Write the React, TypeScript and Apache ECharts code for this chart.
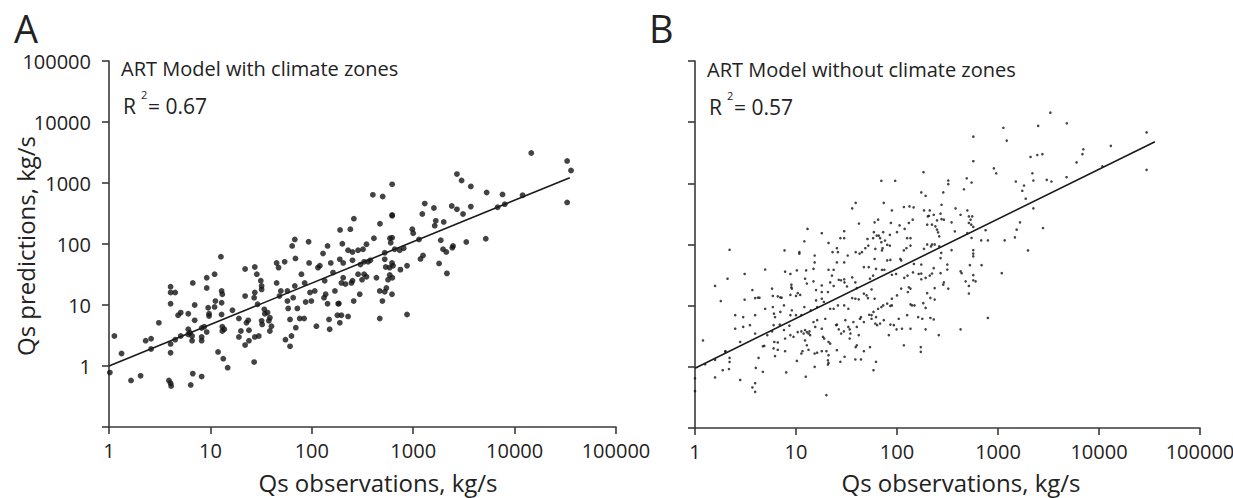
import React, { useEffect, useRef } from "react";
import * as echarts from "echarts";

// Panel A: ART model with climate zones (observed, predicted), kg/s
const panelAPoints: number[][] = [
  [1.13,3.1],[1.02,0.78],[1.33,1.6],[1.65,0.58],[2.05,0.69],[2.3,2.6],[2.6,2.8],[2.6,1.9],[3.1,5.1],[4.05,20],[4.05,16],[4.5,16],[4.05,10.5],[4.05,2.3],[4.05,1.65],[3.9,0.58],[4.05,0.52],[4.1,0.47],[4.5,2.7],[4.8,6.8],[5.1,7.5],[5.1,3.1],[6.05,7.2],[6.05,4.0],[6.05,3.3],[6.3,3.5],[6.6,3.1],[6.6,2.6],[6.7,23],[7.0,5.6],[7.0,10],[6.7,0.75],[6.4,0.49],[8.2,0.67],[8.2,4.2],[8.2,3.0],[8.2,2.6],[8.7,4.4],[9.2,28],[9.2,19],[9.2,3.6],[9.5,9.0],[9.7,7.2],[9.7,6.6],[11,32],[11,9.3],[11.2,11.6],[11.9,1.7],[12.7,62],[12.9,17],[13.1,15],[12.9,10.9],[12.9,7.0],[13.1,4.4],[13.1,3.75],[13.7,4.0],[13.4,1.32],[14.8,0.94],[16.5,8.2],[19.1,6.0],[19.1,3.0],[20,3.75],[22,39],[22,14],[22.7,5.1],[22,2.2],[23.6,5.6],[24,3.85],[24,2.6],[27,1.16],[27.4,42],[27.4,16],[27,13.2],[27.4,3.0],[28.7,32],[29.2,10.3],[30,3.1],[31.4,25],[32,18],[32,20.5],[32,5.5],[32.4,4.8],[34,8.5],[34.4,7.2],[36.6,7.5],[37.7,5.5],[38.6,3.75],[40,4.5],[38.6,6.2],[45,49],[45,23],[47,41],[48,14],[49.5,17],[54,51],[55,2.7],[57.5,17],[57.5,11.6],[58.5,8.8],[61,5.8],[61,2.1],[63,3.1],[64,93],[68,119],[69,58],[65.5,13.2],[68,20.5],[69.5,4.25],[72,8.8],[76,6.0],[79,32],[84,6.0],[85,23],[87,11.2],[93,109],[94,49],[96,16],[99,11.6],[107,17],[111,4.5],[115,41],[120,44],[129,70],[134,25],[132,13.2],[137,15],[143,93],[143,10.5],[148,5.8],[150,4.0],[154,49],[162,34],[169,17],[182,10.5],
  [14600,3100],[33000,2300],[36000,1600],[33000,480],[2700,1400],[3000,1100],[3700,880],[5300,700],[7600,650],[12000,630],[6800,400],[8000,450],[620,950],[400,640],[500,600],[1300,460],[1600,390],[2400,420],[2700,370],[3100,310],[3700,410],[1230,310],[620,300],[620,290],[260,260],[470,215],[190,170],[240,175],[980,175],[1000,150],[1670,240],[1630,200],[2000,230],[410,124],[590,124],[620,127],[600,105],[1140,119],[1870,115],[3340,108],[5200,122],[200,101],[346,99],[228,79],[252,74],[286,79],[320,82],[524,72],[657,82],[736,79],[806,85],[1970,82],[2120,74],[2470,93],[2430,87],[1250,65],[1180,57],[1800,48],[2150,33],[189,56],[204,49],[252,54],[302,46],[328,51],[359,51],[378,54],[524,56],[618,49],[536,42],[587,41],[633,44],[748,38],[869,44],[286,32],[328,32],[346,29],[313,26],[434,28],[587,31],[623,28],[565,26],[196,23],[215,22],[246,23],[252,25],[204,28],[468,17],[544,19],[524,16.5],[618,15],[297,15],[259,11.6],[497,11.6],[185,10.6],[196,6.8],[179,6.8],[228,6.5],[189,5.1],[468,6.0],[869,7.0]
];

// Panel B: ART model without climate zones (observed, predicted), kg/s
const panelBPoints: number[][] = [
  [39,480],[36,390],[74,480],[89,360],[117,410],[133,420],[146,405],[42,220],[65,255],[60,230],[87,225],[106,205],[131,225],[143,255],
  [13,180],[18,153],[27.5,127],[30,127],[30,165],[21,106],[58,127],[59,159],[63,140],[66,140],[68,127],[73,159],[70,109],[76,116],[80,99],[85,96],[71,80],[72,87],[45,75],[48.6,87],[52,96],[61,85],[51,123],[85,144],[100,159],[119,180],[126,127],[136,127],[124,87],[136,96],[117,80],[108,58],[2.2,82],[7.7,80],[10.8,75],[10.8,71],[12.1,113],[15.3,66],[23,75],[25.4,87],[26,75],[32.5,66],[39,75],[42.6,71],
  [30,51],[25.4,51],[21,38.6],[23.6,38.6],[22.7,31],[15.3,51],[14.9,40],[12.6,37.8],[10.2,37.8],[8.8,33],[7.8,36],[4.95,39],[3.1,33],[3.7,18],[4.2,13.5],[4.35,13.5],[5.8,19],[5.9,14.4],[6.6,14.2],[7,13.6],[7.2,13.5],[9,22],[9,20],[9.1,19],[8.8,15],[10.4,16],[10,14.4],[11,15],[12.3,27.6],[12.8,23],[14.9,25],[15.8,18],[18,21.4],[18,16.7],[20.7,16.7],[21.8,24],[23.6,21],[26.5,26.5],[27.9,26],[30,27],[30.2,24],[32,20.6],[36,29],[38.7,24],[36,13.3],[40,19.4],[47,42.7],[52.5,42.7],[54,27.6],[56,18.4],[60,58],[58,31],[62,40],[71,38.6],[75,38.6],[80,55],[86,56],[89,32],[98,33],[110,55],[127,31],[131,20],[136,19],[144,35],[147,48],[164,33],[118,28.5],[100,14.7],[89,13],[110,19],[128,16.7],
  [1.58,21],[2.1,27.6],[1.8,11.9],[3.1,12.5],[3.94,13.3],[2.5,7.0],[3.0,6.5],[3.94,7.0],[4.95,8.9],[5.9,9.5],[6.05,7.4],[6.2,6.5],[7,7.9],[7.6,10.1],[8.8,7.0],[9.1,8.4],[10,7.0],[11.3,7.0],[12.1,9.5],[14,8.4],[15.8,12.2],[16.2,9.5],[18,13],[18.9,11.5],[21.8,8.9],[23.6,8.9],[26,10.1],[30,10.1],[33,8.9],[38.7,13],[41.8,12.7],[47,15.7],[50,14.7],[51.6,13.3],[56,7.0],[58.5,7.9],[62,6.5],[65,8.9],[70,9.5],[73,10.1],[80,10.8],[86,9.9],[89,10.1],[104,6.1],[136,10.5],[141,10.1],[149,10.1],[126,7.0],[162,6.5],[60,13],
  [1.2,2.7],[2.0,1.8],[2.5,4.2],[2.8,2.55],[3.0,4.5],[3.5,4.8],[3.94,3.5],[4.7,2.17],[4.85,2.2],[5.2,3.3],[5.8,3.8],[6.0,4.8],[6.1,2.55],[6.6,2.5],[6.9,4.9],[7.6,4.0],[7.8,2.9],[8.6,4.7],[8.8,3.3],[9.45,3.1],[10.4,3.7],[11.3,3.8],[11.9,3.5],[12.3,4.0],[12.8,3.7],[13.3,3.5],[13.6,3.8],[13.8,3.3],[12.3,2.7],[12.8,2.25],[14.9,5.4],[15.5,4.5],[16.2,5.8],[18,4.2],[18.5,3.1],[19,2.9],[19.5,6.1],[21,2.55],[21.8,2.4],[25,4.8],[25.4,4.9],[26.5,4.1],[28,3.5],[29.8,3.8],[30.8,5.8],[33,4.5],[34,4.1],[37,5.4],[40,4.5],[43,6.1],[44,6.5],[47,5.4],[53,7.1],[56,6.1],[61,5.1],[63.5,4.8],[68,5.1],[74,5.8],[83,3.3],[86,4.9],[93,4.8],[99,4.1],[112,4.2],[117,2.25],[136,4.2],[41.8,3.3],[34.6,3.5],[34,2.9],
  [1.26,1.1],[1.58,1.3],[1.58,0.67],[1.88,0.88],[2.0,1.76],[2.2,1.4],[2.2,1.2],[2.17,0.92],[2.8,0.61],[3.7,0.46],[3.94,0.39],[3.94,0.54],[4.0,0.96],[4.26,1.4],[4.7,0.83],[6.2,1.5],[6.0,2.0],[6.6,1.9],[7.8,1.8],[8.0,0.81],[10.2,1.25],[11.3,1.65],[11.6,1.8],[12.5,0.69],[13.3,1.9],[15.3,1.65],[16.2,1.7],[15.3,1.0],[18,1.8],[20,1.8],[21,1.55],[20.7,1.28],[21,1.16],[20.7,1.09],[20,0.345],[25.4,1.87],[27.5,1.21],[30.3,1.46],[39,2.1],[38.7,1.32],[44,1.32],[47,1.8],[58.5,0.88],[62,1.21],[172,2.1],[172,1.76],[1.0,0.65],[1.0,0.4],[40,2.25],[54,2.1],
  [70,1100],[96,1100],
  [3300,14300],[4800,9600],[2500,8700],[1130,8100],[1220,5000],[570,5800],[29600,6800],[13100,4100],[7000,3600],[6850,3000],[6000,2200],[2100,2700],[2450,2900],[2750,3000],[570,2300],[10800,1900],[29600,1660],[910,1760],[960,1460],[2190,1460],[1500,1070],[1810,920],[2240,1110],[3040,1140],[3380,1070],[4770,1260],[1740,755],[1880,560],[183,1520],[490,1210],[547,1030],[322,1110],[322,970],[460,800],[287,710],[174,710],[192,626],[2240,390],[1650,230],[1530,175],[1470,131],[2790,186],[1980,80],[1090,34],[794,6.3],[426,4.1],[259,3.3],[794,117],[682,117],[1164,117],[753,171],[547,128],[569,81],[569,71],[569,64],[527,46],[688,46],[569,31.5],[569,26],[600,25],[515,21],[515,15.8],[478,25],[426,36.5],[436,34],[347,81],[315,47],[315,39],[291,24],[287,22],[322,19],[236,19.4],[236,12.6],[231,41],[270,60],[274,73],[262,93],[236,100],[217,93],[199,100],[185,85],[174,47],[174,33.5],[174,27],[192,28.5],[211,31],[222,33.5],[270,34],[199,16],[214,13.4],[182,11],[192,9.2],[380,390],[426,306],[497,360],[515,288],[535,254],[515,225],[543,211],[556,288],[569,194],[497,154],[374,164],[347,230],[276,260],[249,248],[240,198],[231,306],[270,319],[276,446],[255,158],[262,136],[222,211],[202,288],[199,211],[222,100],[185,361],[211,361],[207,295],[214,6.3],[231,5.95],[178,6.1],[192,4.1],[249,175],[291,254]
];

// Fitted regression lines (endpoints)
const panelAFit: number[][] = [[1, 1], [35000, 1220]];
const panelBFit: number[][] = [[1, 0.95], [35800, 4800]];

const xTickLabels = ["1", "10", "100", "1000", "10000", "100000"];
const yTickLabels = ["1", "10", "100", "1000", "10000", "100000"];

const titleA = "ART Model with climate zones";
const titleB = "ART Model without climate zones";
const r2A = "= 0.67";
const r2B = "= 0.57";
const xName = "Qs observations, kg/s";
const yName = "Qs predictions, kg/s";

const FONT = "'Open Sans', 'Noto Sans', sans-serif";
const INK = "#222";
const AXIS = "#3a3a3a";

export default function App() {
  const ref = useRef<HTMLDivElement>(null);

  useEffect(() => {
    if (!ref.current) return;
    const chart = echarts.init(ref.current, null, { renderer: "svg" });

    const fmtX = (v: number) => {
      const s = String(Math.round(v));
      return xTickLabels.includes(s) ? s : "";
    };
    const fmtY = (v: number) => {
      if (v < 0.5) return "";
      const s = String(Math.round(v));
      return yTickLabels.includes(s) ? s : "";
    };

    const axisLine = { show: true, lineStyle: { color: AXIS, width: 1.6 } };
    const axisTick = { show: true, inside: false, length: 7, lineStyle: { color: AXIS, width: 1.6 } };

    const xAxisBase = (gridIndex: number) => ({
      type: "log" as const,
      logBase: 10,
      min: 1,
      max: 100000,
      gridIndex,
      axisLine,
      axisTick,
      minorTick: { show: false },
      splitLine: { show: false },
      axisLabel: { show: true, formatter: fmtX, fontSize: 20, fontFamily: FONT, color: INK, margin: 13 },
    });

    const yAxisBase = (gridIndex: number, showLabels: boolean) => ({
      type: "log" as const,
      logBase: 10,
      min: 0.1,
      max: 100000,
      gridIndex,
      axisLine,
      axisTick,
      minorTick: { show: false },
      splitLine: { show: false },
      axisLabel: { show: showLabels, formatter: fmtY, fontSize: 20, fontFamily: FONT, color: INK, margin: 18 },
    });

    const txt = (x: number, y: number, text: string, fontSize: number, extra: any = {}) => ({
      type: "text",
      x,
      y,
      silent: true,
      ...extra,
      style: {
        text,
        fontSize,
        fontFamily: FONT,
        fill: INK,
        align: "left",
        verticalAlign: "middle",
        ...(extra.style || {}),
      },
    });

    chart.setOption({
      animation: false,
      backgroundColor: "#ffffff",
      grid: [
        { left: 109, top: 61, width: 507, height: 366, containLabel: false, outerBoundsMode: "none" },
        { left: 695, top: 61, width: 505, height: 367, containLabel: false, outerBoundsMode: "none" },
      ],
      xAxis: [xAxisBase(0), xAxisBase(1)],
      yAxis: [yAxisBase(0, true), yAxisBase(1, false)],
      series: [
        {
          type: "scatter",
          xAxisIndex: 0,
          yAxisIndex: 0,
          data: panelAPoints,
          symbol: "circle",
          symbolSize: 5.8,
          itemStyle: { color: "#141414" },
          silent: true,
          z: 3,
        },
        {
          type: "line",
          xAxisIndex: 0,
          yAxisIndex: 0,
          data: panelAFit,
          symbol: "none",
          lineStyle: { color: "#1a1a1a", width: 1.6 },
          silent: true,
          z: 4,
        },
        {
          type: "scatter",
          xAxisIndex: 1,
          yAxisIndex: 1,
          data: panelBPoints,
          symbol: "circle",
          symbolSize: 2.6,
          itemStyle: { color: "#141414" },
          silent: true,
          z: 3,
        },
        {
          type: "line",
          xAxisIndex: 1,
          yAxisIndex: 1,
          data: panelBFit,
          symbol: "none",
          lineStyle: { color: "#1a1a1a", width: 1.6 },
          silent: true,
          z: 4,
        },
      ],
      graphic: [
        txt(14, 28, "A", 38),
        txt(649, 28, "B", 38),
        txt(121, 68, titleA, 20),
        txt(707, 69, titleB, 20),
        txt(123, 106, "R", 21),
        txt(141, 94, "2", 11),
        txt(148, 106, r2A, 21),
        txt(709, 107, "R", 21),
        txt(727, 95, "2", 11),
        txt(734, 107, r2B, 21),
        txt(378, 482, xName, 24, { style: { align: "center" } }),
        txt(961, 482, xName, 24, { style: { align: "center" } }),
        txt(25, 246, yName, 24, { rotation: Math.PI / 2, style: { align: "center" } }),
      ],
    });

    return () => {
      chart.dispose();
    };
  }, []);

  return (
    <div
      ref={ref}
      style={{ position: "absolute", left: 0, top: 0, width: 1233, height: 498, background: "#fff" }}
    />
  );
}
